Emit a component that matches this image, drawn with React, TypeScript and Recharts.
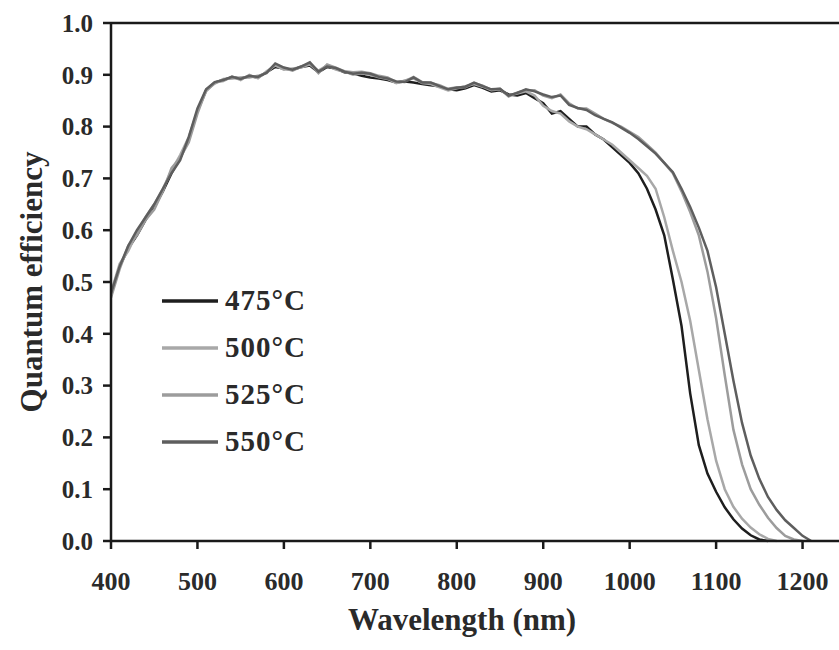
import React from 'react';
import { LineChart, Line, XAxis, YAxis, ReferenceLine } from 'recharts';

const wavelengths = [
  400, 410, 420, 430, 440, 450, 460, 470, 480, 490,
  500, 510, 520, 530, 540, 550, 560, 570, 580, 590,
  600, 610, 620, 630, 640, 650, 660, 670, 680, 690,
  700, 710, 720, 730, 740, 750, 760, 770, 780, 790,
  800, 810, 820, 830, 840, 850, 860, 870, 880, 890,
  900, 910, 920, 930, 940, 950, 960, 970, 980, 990,
  1000, 1010, 1020, 1030, 1040, 1050, 1060, 1070, 1080, 1090,
  1100, 1110, 1120, 1130, 1140, 1150, 1160, 1170, 1180, 1190,
  1200, 1210,
];

const qe475 = [
  0.475, 0.53, 0.565, 0.59, 0.62, 0.645, 0.675, 0.71, 0.74, 0.775,
  0.83, 0.87, 0.885, 0.89, 0.895, 0.893, 0.897, 0.895, 0.905, 0.915,
  0.912, 0.91, 0.915, 0.918, 0.905, 0.915, 0.912, 0.905, 0.903, 0.898,
  0.895, 0.893, 0.89, 0.885, 0.887, 0.885, 0.882, 0.88, 0.878, 0.872,
  0.87, 0.874, 0.88, 0.875, 0.868, 0.87, 0.862, 0.86, 0.865,
  0.855, 0.845, 0.825, 0.83, 0.815, 0.8, 0.8, 0.785, 0.775, 0.76,
  0.745, 0.73, 0.71, 0.68, 0.64, 0.59, 0.505, 0.415, 0.285, 0.185,
  0.13, 0.095, 0.065, 0.042, 0.024, 0.011, 0.003, 0,
];

const qe500 = [
  0.48, 0.535, 0.56, 0.595, 0.625, 0.65, 0.68, 0.715, 0.745, 0.78,
  0.83, 0.868, 0.885, 0.888, 0.897, 0.89, 0.9, 0.893, 0.907, 0.918,
  0.91, 0.912, 0.914, 0.92, 0.908, 0.918, 0.91, 0.906, 0.9, 0.903,
  0.9, 0.895, 0.892, 0.884, 0.889, 0.893, 0.884, 0.882, 0.876, 0.87,
  0.874, 0.878, 0.882, 0.877, 0.87, 0.872, 0.86, 0.864, 0.868,
  0.86, 0.84, 0.83, 0.825, 0.81, 0.8, 0.795, 0.785, 0.775, 0.765,
  0.75, 0.735, 0.72, 0.705, 0.68, 0.625, 0.56, 0.5, 0.425, 0.33,
  0.235, 0.155, 0.1, 0.066, 0.043, 0.026, 0.013, 0.004, 0,
];

const qe525 = [
  0.47, 0.525, 0.57, 0.59, 0.62, 0.64, 0.675, 0.72, 0.74, 0.77,
  0.825, 0.87, 0.883, 0.892, 0.893, 0.895, 0.895, 0.898, 0.903, 0.92,
  0.913, 0.908, 0.916, 0.922, 0.903, 0.92, 0.914, 0.907, 0.905, 0.906,
  0.903, 0.898, 0.895, 0.886, 0.888, 0.896, 0.886, 0.884, 0.88, 0.873,
  0.876, 0.876, 0.884, 0.879, 0.871, 0.873, 0.858, 0.866, 0.87,
  0.87, 0.86, 0.855, 0.862, 0.845, 0.835, 0.835, 0.825, 0.815, 0.807,
  0.8, 0.79, 0.78, 0.765, 0.75, 0.73, 0.71, 0.675, 0.635, 0.59,
  0.52, 0.43, 0.32, 0.215, 0.148, 0.1, 0.07, 0.045, 0.025, 0.01,
  0.003, 0,
];

const qe550 = [
  0.478, 0.53, 0.57, 0.6, 0.625, 0.65, 0.68, 0.71, 0.735, 0.78,
  0.835, 0.872, 0.886, 0.89, 0.896, 0.892, 0.898, 0.896, 0.904, 0.922,
  0.914, 0.91, 0.916, 0.924, 0.906, 0.916, 0.913, 0.906, 0.902, 0.904,
  0.902, 0.896, 0.893, 0.887, 0.886, 0.895, 0.885, 0.885, 0.878, 0.872,
  0.875, 0.877, 0.885, 0.878, 0.872, 0.873, 0.86, 0.865, 0.872,
  0.868, 0.862, 0.857, 0.86, 0.842, 0.836, 0.832, 0.822, 0.815, 0.808,
  0.798, 0.788, 0.776, 0.762, 0.748, 0.73, 0.712, 0.68, 0.645, 0.605,
  0.56, 0.49, 0.4, 0.31, 0.228, 0.165, 0.12, 0.085, 0.06, 0.04,
  0.025, 0.01, 0,
];

const xTicks = [400, 500, 600, 700, 800, 900, 1000, 1100, 1200];
const yTicks = [0, 0.1, 0.2, 0.3, 0.4, 0.5, 0.6, 0.7, 0.8, 0.9, 1.0];

const seriesNames = ['475°C', '500°C', '525°C', '550°C'];
const seriesKeys = ['s475', 's500', 's525', 's550'];
const seriesColors = ['#1e1e1e', '#a8a8a8', '#9c9c9c', '#5e5e5e'];

const data = wavelengths.map((wl, i) => ({
  wl,
  s475: qe475[i] ?? null,
  s500: qe500[i] ?? null,
  s525: qe525[i] ?? null,
  s550: qe550[i] ?? null,
}));

const FONT = '"Liberation Serif", "Times New Roman", serif';
const AXIS_COLOR = '#1a1a1a';
const TEXT_COLOR = '#2a2a2a';

const LegendBox = () => (
  <div style={{ position: 'absolute', left: 160, top: 277, fontFamily: FONT }}>
    {seriesNames.map((name, i) => (
      <div key={name} style={{ display: 'flex', alignItems: 'center', height: 47 }}>
        <svg width={60} height={10} style={{ display: 'block' }}>
          <line x1={2} y1={5} x2={58} y2={5} stroke={seriesColors[i]} strokeWidth={3.5} />
        </svg>
        <span
          style={{
            fontSize: 29,
            fontWeight: 'bold',
            color: TEXT_COLOR,
            marginLeft: 5,
            lineHeight: '29px',
            letterSpacing: 1,
          }}
        >
          {name}
        </span>
      </div>
    ))}
  </div>
);

export default function App() {
  return (
    <div style={{ position: 'absolute', left: 0, top: 0, width: 839, height: 650, overflow: 'hidden', background: '#fff' }}>
      <LineChart
        width={889}
        height={650}
        data={data}
        margin={{ top: 23, right: 0, bottom: 0, left: 0 }}
      >
        <XAxis
          dataKey="wl"
          type="number"
          domain={[400, 1300]}
          ticks={xTicks}
          interval={0}
          allowDataOverflow
          height={109}
          stroke={AXIS_COLOR}
          strokeWidth={2.5}
          tickSize={8}
          tickMargin={23}
          tick={{ fontSize: 26, fontWeight: 'bold', fill: TEXT_COLOR, fontFamily: FONT }}
          label={{
            content: () => (
              <text x={462} y={630} textAnchor="middle" fontSize={31} fontWeight="bold" fill={TEXT_COLOR} fontFamily={FONT}>
                Wavelength (nm)
              </text>
            ),
          }}
        />
        <YAxis
          type="number"
          domain={[0, 1]}
          ticks={yTicks}
          interval={0}
          width={111}
          stroke={AXIS_COLOR}
          strokeWidth={2.5}
          tickSize={8}
          tickMargin={10}
          tickFormatter={(v: number) => v.toFixed(1)}
          tick={{ fontSize: 25, fontWeight: 'bold', fill: TEXT_COLOR, fontFamily: FONT }}
          label={{
            content: () => (
              <text
                x={31}
                y={282}
                transform="rotate(-90 31 282)"
                textAnchor="middle"
                dominantBaseline="central"
                fontSize={31}
                fontWeight="bold"
                fill={TEXT_COLOR}
                fontFamily={FONT}
              >
                Quantum efficiency
              </text>
            ),
          }}
        />
        <ReferenceLine y={1} stroke={AXIS_COLOR} strokeWidth={2.5} ifOverflow="visible" />
        {seriesKeys.map((k, i) => (
          <Line
            key={k}
            dataKey={k}
            name={seriesNames[i]}
            type="linear"
            stroke={seriesColors[i]}
            strokeWidth={2.5}
            dot={false}
            activeDot={false}
            isAnimationActive={false}
          />
        ))}
      </LineChart>
      <LegendBox />
    </div>
  );
}
